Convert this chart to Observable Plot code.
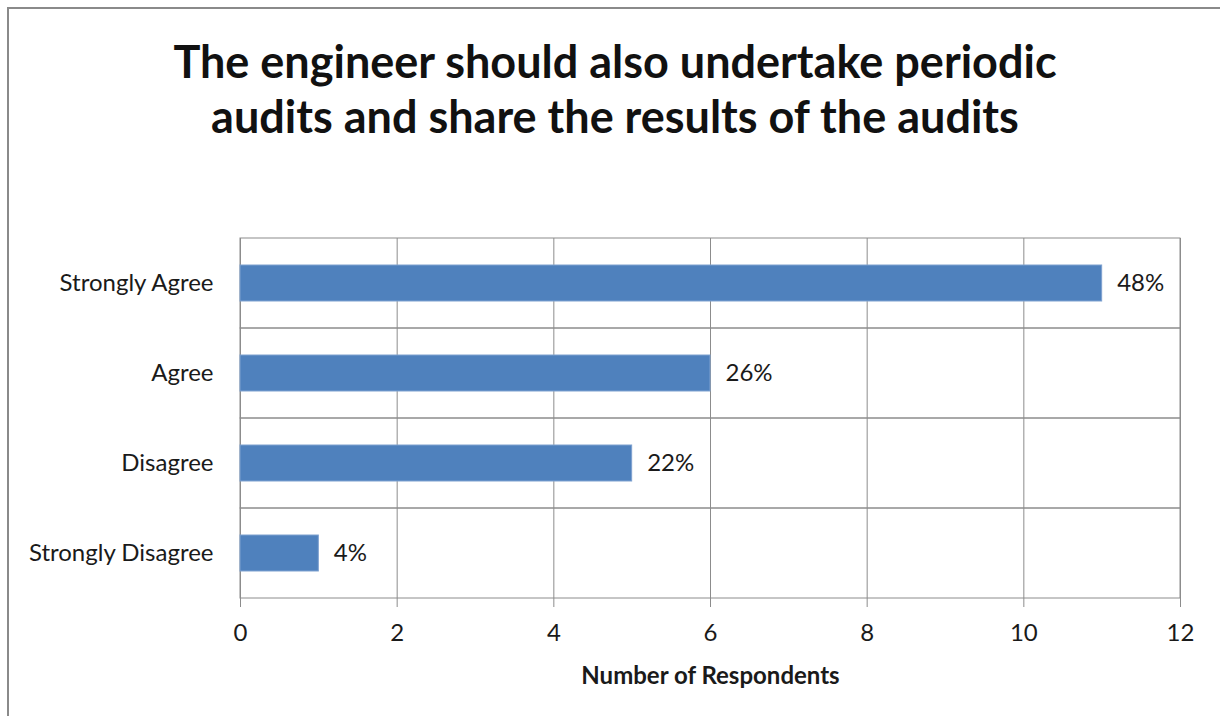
<!DOCTYPE html>
<html>
<head>
<meta charset="utf-8">
<script src="https://cdn.jsdelivr.net/npm/d3@7"></script>
<script src="https://cdn.jsdelivr.net/npm/@observablehq/plot@0.6"></script>
<style>
  html, body { margin: 0; padding: 0; background: #fff; width: 1220px; height: 716px; overflow: hidden; }
  #frame { position: absolute; left: 7px; top: 7px; width: 1240px; height: 740px; border-left: 2px solid #8a8a8a; border-top: 2px solid #8a8a8a; }
  #title { position: absolute; left: 0; top: 34px; width: 1230px; text-align: center; font-family: Lato, "Open Sans", sans-serif; font-weight: bold; font-size: 45px; line-height: 55px; color: #111; }
  #chart { position: absolute; left: 0; top: 180px; }
</style>
</head>
<body>
<div id="frame"></div>
<div id="title">The engineer should also undertake periodic<br>audits and share the results of the audits</div>
<div id="chart"></div>
<script>
const categories = ["Strongly Agree", "Agree", "Disagree", "Strongly Disagree"];
const counts = [11, 6, 5, 1];
const pctLabels = ["48%", "26%", "22%", "4%"];
const xTicks = [0, 2, 4, 6, 8, 10, 12];

const data = categories.map((c, i) => ({category: c, count: counts[i], label: pctLabels[i]}));

const chart = Plot.plot({
  width: 1220,
  height: 536,
  marginLeft: 240,
  marginRight: 40,
  marginTop: 58,
  marginBottom: 118,
  style: {fontFamily: "Lato, 'Open Sans', sans-serif", fontSize: "24px", color: "#1a1a1a", background: "transparent"},
  x: {domain: [0, 12], ticks: xTicks, label: null},
  y: {domain: categories, padding: 0, label: null},
  marks: [
    Plot.gridX(xTicks, {stroke: "#8c8c8c", strokeOpacity: 1, strokeWidth: 1}),
    Plot.barX(categories, {x1: 0, x2: 12, y: d => d, fill: "none", stroke: "#8c8c8c", strokeWidth: 1}),
    Plot.barX(data, {x: "count", y: "category", fill: "#4f81bd", stroke: "#7ea1d0", strokeWidth: 1, insetTop: 27, insetBottom: 27}),
    Plot.text(data, {x: "count", y: "category", text: "label", textAnchor: "start", dx: 15, fontSize: 24, fill: "#1a1a1a"}),
    Plot.axisX({ticks: xTicks, tickSize: 9, tickPadding: 16, stroke: "#8c8c8c", label: "Number of Respondents", labelArrow: "none", labelAnchor: "center", labelOffset: 85, fontSize: 24}),
    Plot.axisY({tickSize: 0, tickPadding: 27, label: null, fontSize: 24})
  ]
});
document.getElementById("chart").appendChild(chart);
chart.querySelectorAll("g[aria-label='x-axis label'] text").forEach(t => {
  t.style.fontWeight = "bold";
  t.textContent = t.textContent.replace(/\s*[→←↑↓]\s*/g, "");
});
</script>
</body>
</html>
